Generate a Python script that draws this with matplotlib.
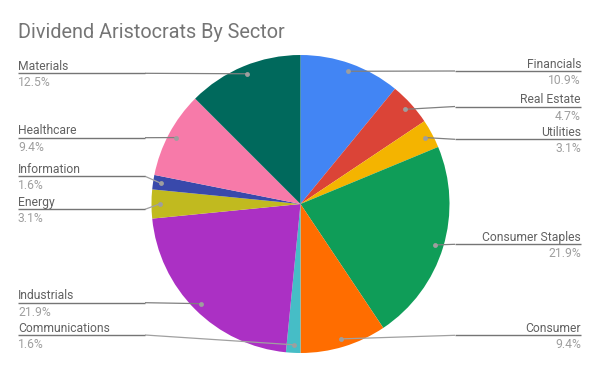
import numpy as np
import matplotlib
matplotlib.use('Agg')
import matplotlib.pyplot as plt

# Dividend aristocrats per sector (count of companies, 64 total)
sectors = ['Financials', 'Real Estate', 'Utilities', 'Consumer Staples', 'Consumer',
           'Communications', 'Industrials', 'Energy', 'Information', 'Healthcare', 'Materials']
counts = [7, 3, 2, 14, 6, 1, 14, 2, 1, 6, 8]
colors = ['#4285F4', '#DB4437', '#F4B400', '#0F9D58', '#FF6D00',
          '#46BDC6', '#AB30C4', '#C1BA1F', '#3949AB', '#F77AA9', '#00695C']
# label line heights (pixels from top of image)
label_y = [71, 106.5, 139.3, 244.3, 335.3, 335, 302.7, 209.3, 176.3, 137.7, 73.3]

W, H = 600, 371
cx, cy, R = 300.5, H - 204, 149

plt.rcParams['font.family'] = ['Roboto', 'DejaVu Sans']

fig = plt.figure(figsize=(6, 3.71), dpi=100)
ax = fig.add_axes([0, 0, 1, 1])
ax.set_xlim(0, W)
ax.set_ylim(0, H)
ax.set_aspect('equal')
ax.axis('off')

wedges, _ = ax.pie(counts, colors=colors, startangle=90, counterclock=False,
                   center=(cx, cy), radius=R, wedgeprops=dict(linewidth=0))
ax.set_xlim(0, W)
ax.set_ylim(0, H)

total = sum(counts)
for w, name, c, ly in zip(wedges, sectors, counts, label_y):
    mid = np.deg2rad((w.theta1 + w.theta2) / 2)
    dx = cx + 0.946 * R * np.cos(mid)
    dy = cy + 0.946 * R * np.sin(mid)
    y = H - ly
    right = np.cos(mid) >= 0
    if right:
        edge, elbow, ha = 581, max(455, dx), 'right'
    else:
        edge, elbow, ha = 18, min(145, dx), 'left'
    # nearly flat leaders stay dark all the way
    lead_col = '#808080' if abs(dy - y) < 3 else '#a0a0a0'
    ax.plot([dx, elbow], [dy, y], color=lead_col, lw=0.9, solid_capstyle='butt')
    ax.plot([elbow, edge], [y, y], color='#757575', lw=1.0, solid_capstyle='butt')
    ax.plot(dx, dy, 'o', color='#9e9e9e', ms=3.5, mec='none')
    ax.text(edge, y + 3.5, name, ha=ha, va='baseline', fontsize=8.7, color='#616161')
    ax.text(edge, y - 13, f'{c / total * 100:.1f}%', ha=ha, va='baseline',
            fontsize=8.7, color='#9e9e9e')

ax.text(18, H - 37.5, 'Dividend Aristocrats By Sector', ha='left', va='baseline',
        fontsize=14.3, color='#757575')

fig.savefig('out.png', dpi=100)
